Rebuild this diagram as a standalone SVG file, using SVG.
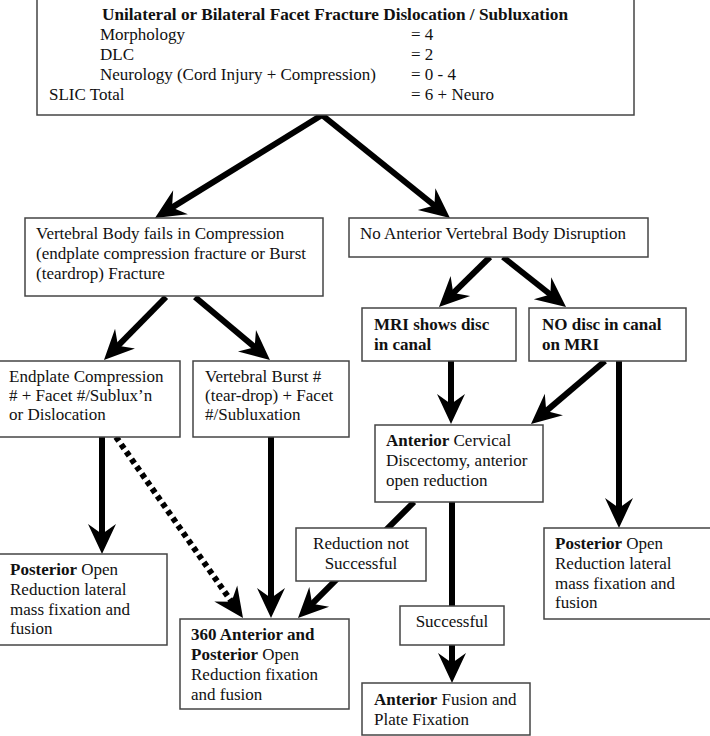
<svg xmlns="http://www.w3.org/2000/svg" width="710" height="736" viewBox="0 0 710 736" font-family="Liberation Serif, Times New Roman, Times, DejaVu Serif, serif">
<style>
text{font-size:17px;fill:#111}
.b{font-weight:bold}
.box{fill:#fff;stroke:#444;stroke-width:1.5}
.c{stroke:#000;stroke-width:6;fill:none}
.d{stroke:#000;stroke-width:6;fill:none;stroke-dasharray:5 4}
</style>
<defs>
<marker id="ah" markerUnits="userSpaceOnUse" orient="auto" refX="0" refY="0" markerWidth="1" markerHeight="1" overflow="visible">
<path d="M16,0 L-14,-14 L-4,0 L-14,14 Z" fill="#000"/>
</marker>
</defs>
<rect width="710" height="736" fill="#fff"/>
<g id="connectors">
<line class="c" x1="322" y1="115" x2="168.6" y2="209.6" marker-end="url(#ah)"/>
<line class="c" x1="322" y1="115" x2="437.5" y2="208" marker-end="url(#ah)"/>
<line class="c" x1="166" y1="297" x2="115.2" y2="348.6" marker-end="url(#ah)"/>
<line class="c" x1="195" y1="297" x2="257.7" y2="349.7" marker-end="url(#ah)"/>
<line class="c" x1="490" y1="257" x2="450.4" y2="295.8" marker-end="url(#ah)"/>
<line class="c" x1="503" y1="257" x2="553.5" y2="297" marker-end="url(#ah)"/>
<line class="c" x1="451" y1="361" x2="451" y2="408" marker-end="url(#ah)"/>
<line class="c" x1="605" y1="361" x2="543.2" y2="413.6" marker-end="url(#ah)"/>
<line class="c" x1="619" y1="361" x2="619" y2="512" marker-end="url(#ah)"/>
<line class="c" x1="102" y1="437" x2="102" y2="538" marker-end="url(#ah)"/>
<line class="d" x1="116" y1="437" x2="233.8" y2="604.9" marker-end="url(#ah)"/>
<line class="c" x1="271" y1="437" x2="271" y2="602" marker-end="url(#ah)"/>
<line class="c" x1="414" y1="502" x2="309.3" y2="606.7" marker-end="url(#ah)"/>
<line class="c" x1="452" y1="502" x2="452" y2="667" marker-end="url(#ah)"/>
</g>
<g id="n-top">
<rect class="box" x="37" y="-2" width="597" height="117"/>
<text class="b" x="102" y="20" textLength="466" lengthAdjust="spacingAndGlyphs">Unilateral or Bilateral Facet Fracture Dislocation / Subluxation</text>
<text x="100" y="40">Morphology</text><text x="411" y="40">= 4</text>
<text x="100" y="60">DLC</text><text x="411" y="60">= 2</text>
<text x="100" y="80">Neurology (Cord Injury + Compression)</text><text x="411" y="80">= 0 - 4</text>
<text x="49" y="100">SLIC Total</text><text x="411" y="100">= 6 + Neuro</text>
</g>
<g id="n-vbfail">
<rect class="box" x="25" y="218" width="298" height="78"/>
<text x="36" y="239">Vertebral Body fails in Compression</text>
<text x="36" y="259">(endplate compression fracture or Burst</text>
<text x="36" y="279">(teardrop) Fracture</text>
</g>
<g id="n-noant">
<rect class="box" x="349" y="218" width="299" height="39"/>
<text x="360" y="239">No Anterior Vertebral Body Disruption</text>
</g>
<g id="n-mridisc">
<rect class="box" x="362" y="308" width="154" height="53"/>
<text class="b" x="374" y="330">MRI shows disc</text>
<text class="b" x="374" y="350">in canal</text>
</g>
<g id="n-nodisc">
<rect class="box" x="529" y="308" width="157" height="53"/>
<text class="b" x="542" y="330">NO disc in canal</text>
<text class="b" x="542" y="350">on MRI</text>
</g>
<g id="n-endplate">
<rect class="box" x="-1" y="361" width="181" height="76"/>
<text x="9" y="382">Endplate Compression</text>
<text x="9" y="401"># + Facet #/Sublux’n</text>
<text x="9" y="420">or Dislocation</text>
</g>
<g id="n-burst">
<rect class="box" x="193" y="361" width="156" height="76"/>
<text x="205" y="382">Vertebral Burst #</text>
<text x="205" y="401">(tear-drop) + Facet</text>
<text x="205" y="420">#/Subluxation</text>
</g>
<g id="n-acd">
<rect class="box" x="375" y="425" width="168" height="77"/>
<text x="386" y="446"><tspan class="b">Anterior</tspan> Cervical</text>
<text x="386" y="466">Discectomy, anterior</text>
<text x="386" y="486">open reduction</text>
</g>
<g id="n-redfail">
<rect class="box" x="296" y="528" width="130" height="53"/>
<text x="361" y="549" text-anchor="middle">Reduction not</text>
<text x="361" y="569" text-anchor="middle">Successful</text>
</g>
<g id="n-succ">
<rect class="box" x="400" y="606" width="104" height="39"/>
<text x="452" y="627" text-anchor="middle">Successful</text>
</g>
<g id="n-postleft">
<rect class="box" x="-1" y="554" width="168" height="91"/>
<text x="10" y="575"><tspan class="b">Posterior</tspan> Open</text>
<text x="10" y="595">Reduction lateral</text>
<text x="10" y="615">mass fixation and</text>
<text x="10" y="634">fusion</text>
</g>
<g id="n-postright">
<rect class="box" x="544" y="528" width="170" height="91"/>
<text x="555" y="549"><tspan class="b">Posterior</tspan> Open</text>
<text x="555" y="569">Reduction lateral</text>
<text x="555" y="589">mass fixation and</text>
<text x="555" y="608">fusion</text>
</g>
<g id="n-360">
<rect class="box" x="180" y="619" width="169" height="90"/>
<text class="b" x="191" y="640">360 Anterior and</text>
<text x="191" y="660"><tspan class="b">Posterior</tspan> Open</text>
<text x="191" y="680">Reduction fixation</text>
<text x="191" y="700">and fusion</text>
</g>
<g id="n-antfusion">
<rect class="box" x="362" y="683" width="168" height="52"/>
<text x="374" y="705"><tspan class="b">Anterior</tspan> Fusion and</text>
<text x="374" y="725">Plate Fixation</text>
</g>
</svg>
